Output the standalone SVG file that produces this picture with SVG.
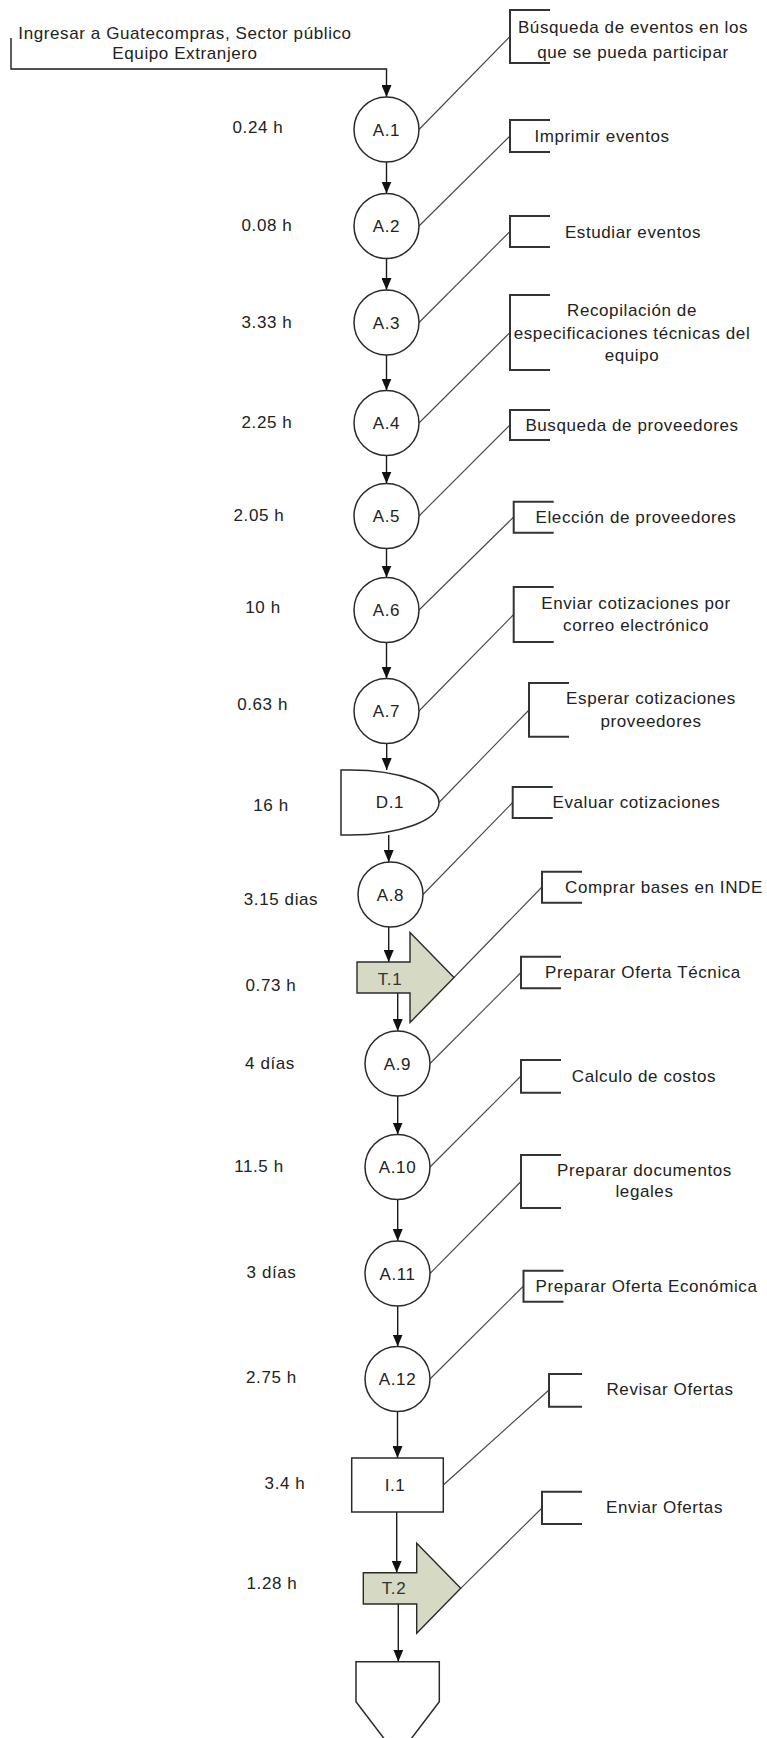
<svg xmlns="http://www.w3.org/2000/svg" width="767" height="1738" viewBox="0 0 767 1738">
  <style>
    text { font-family: "Liberation Sans", Arial, sans-serif; font-size: 17px; letter-spacing: 0.6px; fill: #222; }
    .c { text-anchor: middle; }
    .node { fill: #fff; stroke: #2a2a2a; stroke-width: 1.5; }
    .trans { fill: #d6d9c3; stroke: #2a2a2a; stroke-width: 1.4; }
    .flow { fill: none; stroke: #1a1a1a; stroke-width: 1.4; marker-end: url(#arrow); }
    .lead { fill: none; stroke: #444; stroke-width: 1.1; }
    .bracket { fill: none; stroke: #333; stroke-width: 2; }
  </style>
  <defs>
    <marker id="arrow" markerUnits="userSpaceOnUse" markerWidth="12" markerHeight="10" refX="12" refY="5" orient="auto">
      <path d="M0,0 L12,5 L0,10 Z" fill="#111"/>
    </marker>
  </defs>
  <rect width="767" height="1738" fill="#fff"/>

  <!-- entry text -->
  <g id="entry">
    <text class="c" x="185" y="39">Ingresar a Guatecompras, Sector público</text>
    <text class="c" x="185" y="59">Equipo Extranjero</text>
  </g>

  <!-- flow connectors -->
  <g id="connectors">
    <path class="flow" d="M11,38 V69 H386.5 V97"/>
    <path class="flow" d="M386.5,162 V193.5"/>
    <path class="flow" d="M386.5,258.5 V290"/>
    <path class="flow" d="M386.5,355 V390.5"/>
    <path class="flow" d="M386.5,455.5 V483.5"/>
    <path class="flow" d="M386.5,548.5 V577.5"/>
    <path class="flow" d="M386.5,642.5 V678.5"/>
    <path class="flow" d="M386.7,743.5 V770"/>
    <path class="flow" d="M388.7,835 V862"/>
    <path class="flow" d="M388.7,927 V962"/>
    <path class="flow" d="M397.7,993 V1031"/>
    <path class="flow" d="M397.7,1096 V1134.5"/>
    <path class="flow" d="M397.7,1199.5 V1241"/>
    <path class="flow" d="M397.7,1306 V1346.5"/>
    <path class="flow" d="M397.5,1411.5 V1458"/>
    <path class="flow" d="M396.7,1512 V1572.7"/>
    <path class="flow" d="M398.3,1604 V1661.7"/>
  </g>

  <!-- annotation leaders -->
  <g id="leaders">
    <path class="lead" d="M419,129.5 L510,36.5"/>
    <path class="lead" d="M419,226 L510,136"/>
    <path class="lead" d="M419,322.5 L510,231.5"/>
    <path class="lead" d="M419,423 L510,332.5"/>
    <path class="lead" d="M419,516 L510,425"/>
    <path class="lead" d="M419,610 L513.7,517"/>
    <path class="lead" d="M419,711 L513.7,614.5"/>
    <path class="lead" d="M439,802.5 L529,710"/>
    <path class="lead" d="M423,894.5 L512.7,802.5"/>
    <path class="lead" d="M454,977.5 L542,887"/>
    <path class="lead" d="M430,1063.5 L521,972.5"/>
    <path class="lead" d="M430,1167 L521,1076"/>
    <path class="lead" d="M430,1273.5 L521,1181.5"/>
    <path class="lead" d="M430,1379 L523.5,1286"/>
    <path class="lead" d="M443.3,1485 L549,1390"/>
    <path class="lead" d="M460.7,1588.3 L542,1508"/>
  </g>

  <!-- annotation brackets -->
  <g id="brackets">
    <path class="bracket" d="M550,10 H510 V63 H550"/>
    <path class="bracket" d="M550,120 H510 V152 H550"/>
    <path class="bracket" d="M550,216 H510 V247 H550"/>
    <path class="bracket" d="M550,295 H510 V370 H550"/>
    <path class="bracket" d="M550,410 H510 V440 H550"/>
    <path class="bracket" d="M553.7,501.7 H513.7 V532.7 H553.7"/>
    <path class="bracket" d="M553.7,587 H513.7 V642 H553.7"/>
    <path class="bracket" d="M569,683 H529 V736.7 H569"/>
    <path class="bracket" d="M552.7,787 H512.7 V818 H552.7"/>
    <path class="bracket" d="M582,871.7 H542 V902.7 H582"/>
    <path class="bracket" d="M561,956.7 H521 V988.3 H561"/>
    <path class="bracket" d="M561,1060 H521 V1092.7 H561"/>
    <path class="bracket" d="M561,1155 H521 V1208 H561"/>
    <path class="bracket" d="M563.5,1270.7 H523.5 V1301.7 H563.5"/>
    <path class="bracket" d="M582,1374 H549 V1406.7 H582"/>
    <path class="bracket" d="M582,1491.7 H542 V1524 H582"/>
  </g>

  <!-- annotation texts -->
  <g id="notes">
    <text class="c" x="633" y="33">Búsqueda de eventos en los</text>
    <text class="c" x="633" y="58">que se pueda participar</text>
    <text class="c" x="602" y="142">Imprimir eventos</text>
    <text class="c" x="633" y="237.5">Estudiar eventos</text>
    <text class="c" x="632" y="316">Recopilación de</text>
    <text class="c" x="632" y="339">especificaciones técnicas del</text>
    <text class="c" x="632" y="361">equipo</text>
    <text class="c" x="632" y="431">Busqueda de proveedores</text>
    <text class="c" x="636" y="523">Elección de proveedores</text>
    <text class="c" x="636" y="609">Enviar cotizaciones por</text>
    <text class="c" x="636" y="631">correo electrónico</text>
    <text class="c" x="651" y="704">Esperar cotizaciones</text>
    <text class="c" x="651" y="727">proveedores</text>
    <text class="c" x="636.5" y="808">Evaluar cotizaciones</text>
    <text class="c" x="664" y="893">Comprar bases en INDE</text>
    <text class="c" x="643" y="978">Preparar Oferta Técnica</text>
    <text class="c" x="644" y="1082">Calculo de costos</text>
    <text class="c" x="644.5" y="1176">Preparar documentos</text>
    <text class="c" x="644.5" y="1197">legales</text>
    <text class="c" x="646.5" y="1292">Preparar Oferta Económica</text>
    <text class="c" x="670" y="1395">Revisar Ofertas</text>
    <text class="c" x="664.5" y="1513">Enviar Ofertas</text>
  </g>

  <!-- durations -->
  <g id="times">
    <text class="c" x="258" y="133">0.24 h</text>
    <text class="c" x="267" y="231">0.08 h</text>
    <text class="c" x="267" y="328">3.33 h</text>
    <text class="c" x="267" y="428">2.25 h</text>
    <text class="c" x="259" y="521">2.05 h</text>
    <text class="c" x="263" y="613">10 h</text>
    <text class="c" x="262.6" y="710">0.63 h</text>
    <text class="c" x="271" y="811">16 h</text>
    <text class="c" x="281" y="905">3.15 dias</text>
    <text class="c" x="271" y="991">0.73 h</text>
    <text class="c" x="270" y="1069">4 días</text>
    <text class="c" x="259" y="1172">11.5 h</text>
    <text class="c" x="271.5" y="1278">3 días</text>
    <text class="c" x="271.5" y="1383">2.75 h</text>
    <text class="c" x="285" y="1489">3.4 h</text>
    <text class="c" x="272" y="1589">1.28 h</text>
  </g>

  <!-- process nodes -->
  <g id="A1"><circle class="node" cx="386.5" cy="129.5" r="32.5"/><text class="c" x="386.5" y="135.5">A.1</text></g>
  <g id="A2"><circle class="node" cx="386.5" cy="226" r="32.5"/><text class="c" x="386.5" y="232">A.2</text></g>
  <g id="A3"><circle class="node" cx="386.5" cy="322.5" r="32.5"/><text class="c" x="386.5" y="328.5">A.3</text></g>
  <g id="A4"><circle class="node" cx="386.5" cy="423" r="32.5"/><text class="c" x="386.5" y="429">A.4</text></g>
  <g id="A5"><circle class="node" cx="386.5" cy="516" r="32.5"/><text class="c" x="386.5" y="522">A.5</text></g>
  <g id="A6"><circle class="node" cx="386.5" cy="610" r="32.5"/><text class="c" x="386.5" y="616">A.6</text></g>
  <g id="A7"><circle class="node" cx="386.5" cy="711" r="32.5"/><text class="c" x="386.5" y="717">A.7</text></g>
  <g id="D1"><path class="node" d="M341,770 H350 A89,32.5 0 0 1 350,835 H341 Z"/><text class="c" x="390" y="808">D.1</text></g>
  <g id="A8"><circle class="node" cx="390.5" cy="894.5" r="32.5"/><text class="c" x="390.5" y="900.5">A.8</text></g>
  <g id="T1"><path class="trans" d="M357,962 H410 V932.5 L454,977.5 L410,1022.5 V993 H357 Z"/><text class="c" x="390" y="985" style="fill:#333">T.1</text></g>
  <g id="A9"><circle class="node" cx="397.5" cy="1063.5" r="32.5"/><text class="c" x="397.5" y="1069.5">A.9</text></g>
  <g id="A10"><circle class="node" cx="397.5" cy="1167" r="32.5"/><text class="c" x="397.5" y="1173">A.10</text></g>
  <g id="A11"><circle class="node" cx="397.5" cy="1273.5" r="32.5"/><text class="c" x="397.5" y="1279.5">A.11</text></g>
  <g id="A12"><circle class="node" cx="397.5" cy="1379" r="32.5"/><text class="c" x="397.5" y="1385">A.12</text></g>
  <g id="I1"><rect class="node" x="351.7" y="1458" width="91.6" height="54"/><text class="c" x="395" y="1491">I.1</text></g>
  <g id="T2"><path class="trans" d="M363.3,1572.7 H416.7 V1543.3 L460.7,1588.3 L416.7,1633.3 V1604 H363.3 Z"/><text class="c" x="394" y="1594" style="fill:#333">T.2</text></g>
  <g id="end"><path class="node" d="M356,1661.7 H439.3 V1701.7 L397.7,1756.5 L356,1701.7 Z"/></g>
</svg>
